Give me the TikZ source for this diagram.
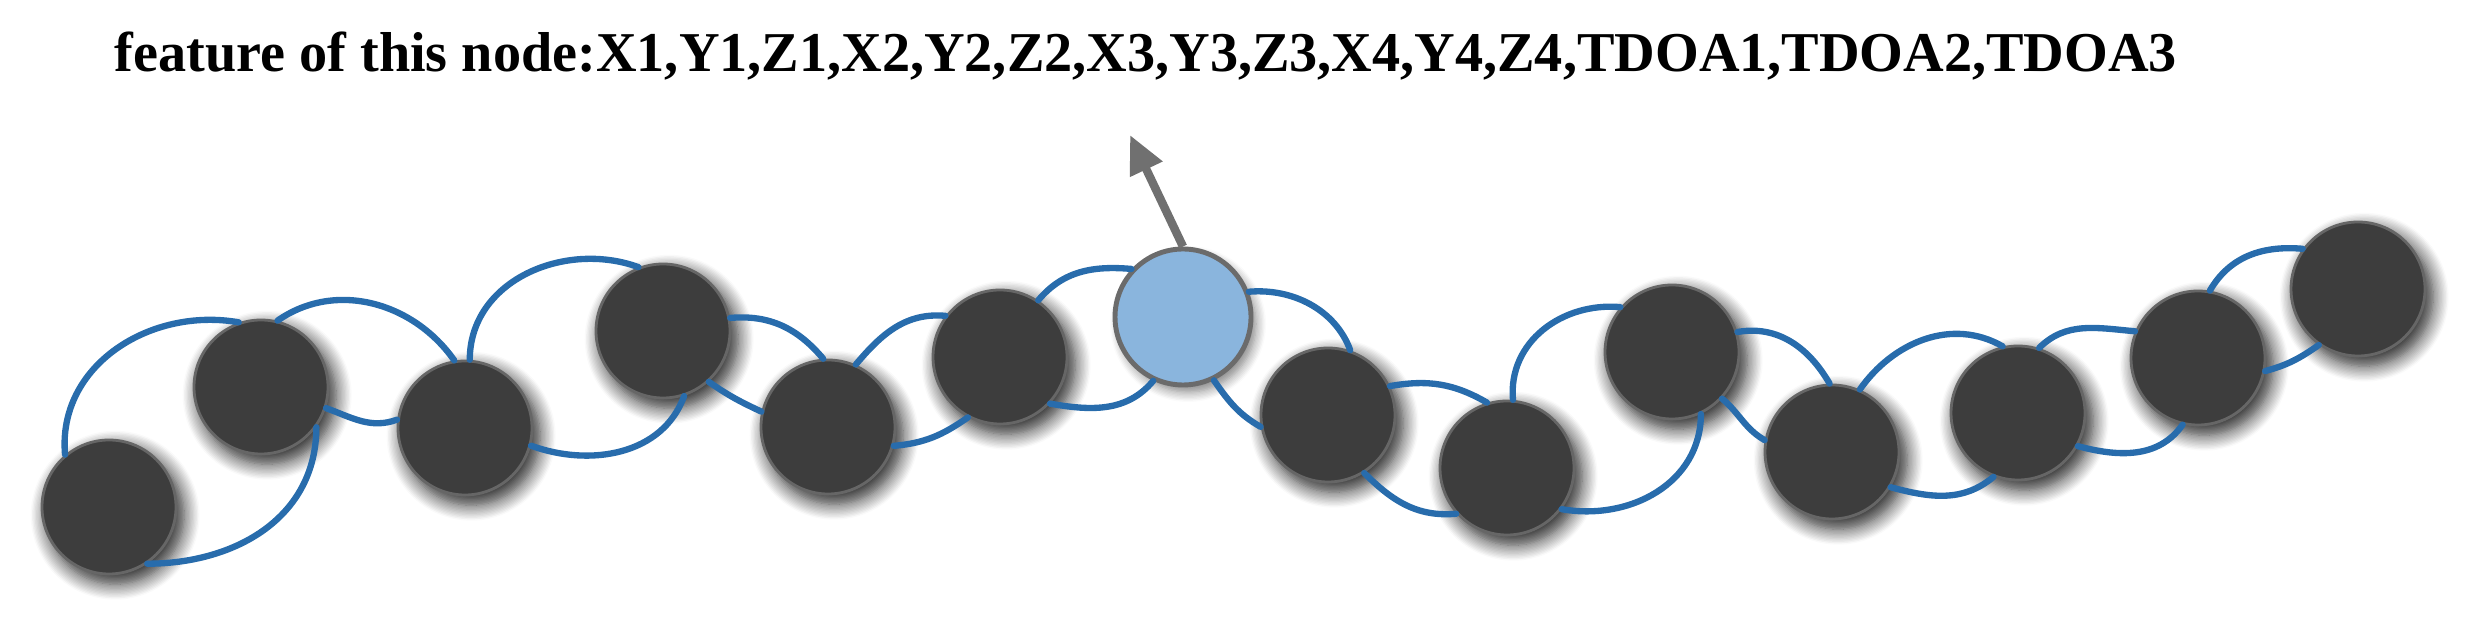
\documentclass[tikz,border=0pt]{standalone}
\usepackage{fontspec}
\setmainfont{Liberation Serif}
\usetikzlibrary{arrows.meta,shadows.blur}
\definecolor{bleulien}{RGB}{40,108,172}
\definecolor{bleuclair}{RGB}{138,181,221}
\definecolor{grisfleche}{RGB}{112,112,112}
\begin{document}
\begin{tikzpicture}
\tikzset{noeud/.style={draw=black!60, line width=0.8pt, fill=black!76, circle, minimum size=1.34cm, inner sep=0pt,
  blur shadow={shadow xshift=0.6mm, shadow yshift=-0.8mm, shadow scale=1.03, shadow blur radius=1.5mm, shadow blur steps=12, shadow opacity=85}},
  noeudbleu/.style={draw=black!58, line width=1.4pt, fill=bleuclair, circle, minimum size=1.36cm, inner sep=0pt,
  blur shadow={shadow xshift=0.5mm, shadow yshift=-0.7mm, shadow blur radius=1mm, shadow blur steps=8, shadow opacity=50}},
  lien/.style={draw=bleulien, line width=1.8pt, line cap=round},
  fleche/.style={draw=grisfleche, line width=2.4pt, -{Triangle[length=3.8mm,width=3.4mm]}}}
\useasboundingbox (0,0) rectangle (24.68,6.18);
\node[anchor=base west, font=\bfseries\fontsize{16}{19}\selectfont, inner sep=0pt] (titre) at (1.14,5.46) {feature of this node:X1,Y1,Z1,X2,Y2,Z2,X3,Y3,Z3,X4,Y4,Z4,TDOA1,TDOA2,TDOA3};
\node[noeud] (V1) at (1.09,1.11) {};
\node[noeud] (V2) at (2.61,2.31) {};
\node[noeud] (V3) at (4.65,1.90) {};
\node[noeud] (V4) at (6.63,2.87) {};
\node[noeud] (V5) at (8.28,1.91) {};
\node[noeud] (V6) at (10.00,2.61) {};
\node[noeudbleu] (V7) at (11.83,3.01) {};
\node[noeud] (V8) at (13.28,2.03) {};
\node[noeud] (V9) at (15.07,1.50) {};
\node[noeud] (V10) at (16.72,2.66) {};
\node[noeud] (V11) at (18.32,1.66) {};
\node[noeud] (V12) at (20.18,2.05) {};
\node[noeud] (V13) at (21.98,2.60) {};
\node[noeud] (V14) at (23.58,3.29) {};
\coordinate (pointe) at (11.30,4.83);
\draw[fleche] (V7.north) -- (pointe);
\draw[lien] (V1.130) to[out=95,in=170,looseness=1.05] (V2.109);
\draw[lien] (V2.-36) to[out=-90,in=0,looseness=1.05] (V1.-56);
\draw[lien] (V2.76) to[out=35,in=125] (V3.99);
\draw[lien] (V2.-18) to[out=-20,in=200] (V3.173);
\draw[lien] (V3.86) to[out=90,in=160,looseness=1.05] (V4.111);
\draw[lien] (V4.-72) to[out=-110,in=-20] (V3.-15);
\draw[lien] (V4.11) to[out=5,in=130] (V5.94);
\draw[lien] (V4.-48) to[out=-35,in=155] (V5.167);
\draw[lien] (V5.66) to[out=50,in=175] (V6.143);
\draw[lien] (V6.-118) to[out=-145,in=5] (V5.-16);
\draw[lien] (V6.56) to[out=50,in=175] (V7.137);
\draw[lien] (V7.-115) to[out=-130,in=-10] (V6.-43);
\draw[lien] (V7.21) to[out=5,in=110,looseness=0.95] (V8.71);
\draw[lien] (V7.-64) to[out=-55,in=150] (V8.-170);
\draw[lien] (V8.25) to[out=10,in=150] (V9.107);
\draw[lien] (V8.-58) to[out=-45,in=185] (V9.222);
\draw[lien] (V9.85) to[out=95,in=175,looseness=1.05] (V10.139);
\draw[lien] (V10.-65) to[out=-90,in=-10,looseness=1.05] (V9.-37);
\draw[lien] (V10.17) to[out=10,in=120] (V11.92);
\draw[lien] (V10.-43) to[out=-40,in=150] (V11.170);
\draw[lien] (V11.66) to[out=55,in=150] (V12.103);
\draw[lien] (V12.-111) to[out=-140,in=-15] (V11.-31);
\draw[lien] (V12.72) to[out=45,in=175] (V13.157);
\draw[lien] (V13.-103) to[out=-125,in=-15] (V12.-29);
\draw[lien] (V13.80) to[out=60,in=175] (V14.144);
\draw[lien] (V14.-125) to[out=-145,in=15] (V13.-11);
\end{tikzpicture}
\end{document}
